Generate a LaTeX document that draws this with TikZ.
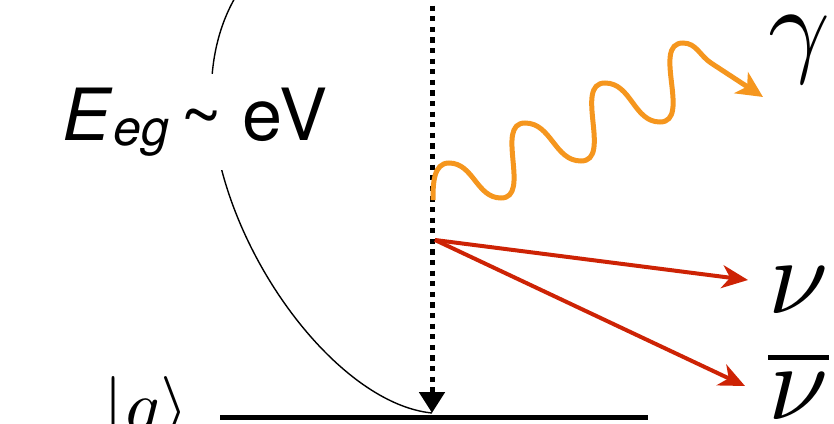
\documentclass[tikz,border=0pt]{standalone}
\usepackage{fontspec}
\usepackage{graphicx}
\usepackage{xcolor}
\usepackage{tikz}
\usetikzlibrary{arrows.meta}
\newfontfamily\labfont{TeX Gyre Heros}
\definecolor{figline}{RGB}{0,0,0}
\definecolor{photon}{RGB}{245,150,30}
\definecolor{nuline}{RGB}{205,35,5}
\newcommand{\bigsym}[1]{\scalebox{5.4}{$#1$}}
\tikzset{
  lvl/.style   ={draw=figline, line width=2.5pt, line cap=butt},
  decay/.style ={draw=figline, line width=2.5pt, line cap=butt, dash pattern=on 2.6pt off 2.7pt,
                 -{Triangle[length=10.5pt,width=12.5pt]}},
  gap/.style   ={draw=figline, line width=0.7pt},
  phot/.style  ={draw=photon, line width=2.5pt, -{Stealth[length=13pt,width=12.5pt,inset=3.5pt]}},
  neu/.style   ={draw=nuline, line width=2pt, -{Stealth[length=13pt,width=11.5pt,inset=4pt]}},
  lab/.style   ={font=\labfont\fontsize{36}{40}\selectfont, inner xsep=2pt, inner ysep=7pt},
  sym/.style   ={inner sep=0pt},
}

\begin{document}
\begin{tikzpicture}[x=0.5pt,y=-0.5pt]
  \useasboundingbox (0,0) rectangle (834,423);
  \clip (0,0) rectangle (834,423);
  \coordinate (top)   at (432,-5);
  \coordinate (tip)   at (432,413);
  \coordinate (gleft) at (220,417);
  \coordinate (gright) at (648,417);
  \coordinate (arc0)  at (255,-30);
  \coordinate (emit)  at (435,240);
  \coordinate (gsrc)  at (433,200);
  \coordinate (gtip)  at (763,97);
  \coordinate (nutip) at (748,280);
  \coordinate (nbtip) at (745,386);
  \draw[lvl] (gleft) -- (gright);
  \draw[gap] (arc0) .. controls (130,110) and (300,400) .. (tip);
  \node[lab,fill=white,anchor=base] (egap) at (195,140)
    {\textit{E}\raisebox{-2.5pt}{\fontsize{25}{25}\selectfont\itshape eg}\,\textasciitilde\ eV};
  \node[sym,anchor=base west] (gket) at (103,430) {\scalebox{3.6}{$|g\rangle$}};
  \draw[decay] (top) -- (tip);
  \draw[phot] (gsrc) to[out=90,in=180] (449,163) to[out=0,in=180] (501,198)
    to[out=0,in=180] (525,123) to[out=0,in=180] (581,161)
    to[out=0,in=180] (605,83) to[out=0,in=180] (660,122)
    to[out=0,in=180] (683,43) to[out=0,in=147] (711,63) -- (gtip);
  \node[sym,anchor=base west] (gam) at (768,62) {\bigsym{\gamma}};
  \draw[neu] (emit) -- (nutip);
  \draw[neu] (emit) -- (nbtip);
  \node[sym,anchor=base west] (nu) at (768,313) {\bigsym{\nu}};
  \node[sym,anchor=base west] (nubar) at (768,419) {\bigsym{\overline{\nu}}};
\end{tikzpicture}
\end{document}
